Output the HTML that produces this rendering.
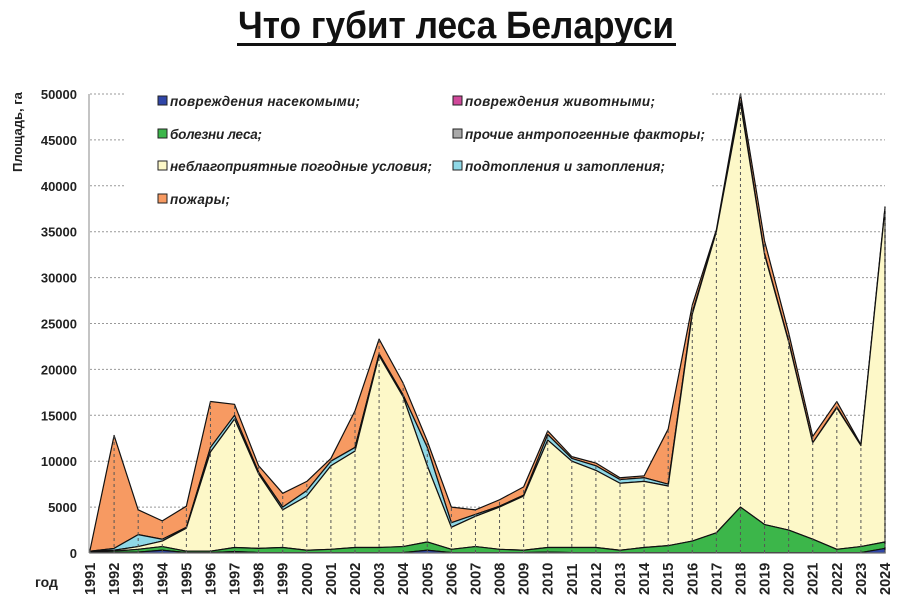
<!DOCTYPE html>
<html><head><meta charset="utf-8"><style>
body{margin:0;background:#fff;width:900px;height:608px;overflow:hidden}
svg{font-family:"Liberation Sans","DejaVu Sans",sans-serif}
</style></head><body>
<svg id="s" width="900" height="608" xmlns="http://www.w3.org/2000/svg">
<text x="456" y="38" text-anchor="middle" font-size="38" font-weight="bold" fill="#111" textLength="436" lengthAdjust="spacingAndGlyphs">Что губит леса Беларуси</text>
<rect x="237" y="43" width="439" height="3" fill="#111"/>
<g id="grid"></g>
<g id="areas"></g>
<g id="lab"></g>
<text transform="translate(22,172) rotate(-90)" font-size="13" font-weight="bold" fill="#222">Площадь, га</text>
<text x="35" y="587" font-size="14" font-weight="bold" fill="#222">год</text>
<g font-size="13.5" font-weight="bold" font-style="italic" fill="#222" lengthAdjust="spacingAndGlyphs">
<rect x="158" y="96" width="9" height="9" fill="#3046a8" stroke="#222" stroke-width="1"/><text x="170" y="106" textLength="190">повреждения насекомыми;</text>
<rect x="158" y="129" width="9" height="9" fill="#3cb64a" stroke="#222" stroke-width="1"/><text x="170" y="139" textLength="92">болезни леса;</text>
<rect x="158" y="161" width="9" height="9" fill="#fdf8c8" stroke="#222" stroke-width="1"/><text x="170" y="171" textLength="262">неблагоприятные погодные условия;</text>
<rect x="158" y="194" width="9" height="9" fill="#f79a62" stroke="#222" stroke-width="1"/><text x="170" y="204" textLength="60">пожары;</text>
<rect x="453" y="96" width="9" height="9" fill="#d0489a" stroke="#222" stroke-width="1"/><text x="465" y="106" textLength="190">повреждения животными;</text>
<rect x="453" y="129" width="9" height="9" fill="#aaa" stroke="#222" stroke-width="1"/><text x="465" y="139" textLength="240">прочие антропогенные факторы;</text>
<rect x="453" y="161" width="9" height="9" fill="#8fd8e6" stroke="#222" stroke-width="1"/><text x="465" y="171" textLength="200">подтопления и затопления;</text>
</g>
</svg>
<script>
var NS="http://www.w3.org/2000/svg";
function el(t,a,p){var e=document.createElementNS(NS,t);for(var k in a)e.setAttribute(k,a[k]);if(p)p.appendChild(e);return e;}
var x0=90,dx=(885-90)/33,y0=553,k=(553-94)/50;
function X(i){return x0+i*dx} function Y(v){return y0-v*k}
var bl=[0.05,0.05,0.1,0.3,0.05,0.05,0.15,0.05,0.05,0.05,0.05,0.05,0.05,0.05,0.3,0.05,0.05,0.05,0.05,0.1,0.05,0.05,0.05,0.05,0.05,0.05,0.05,0.05,0.05,0.05,0.05,0.05,0.05,0.5];
var gr=[0.1,0.2,0.4,0.7,0.2,0.2,0.6,0.5,0.6,0.3,0.4,0.6,0.6,0.7,1.2,0.4,0.7,0.4,0.3,0.6,0.6,0.6,0.3,0.6,0.8,1.3,2.2,5.0,3.1,2.5,1.5,0.4,0.7,1.2];
var we=[0.2,0.3,0.7,1.3,2.7,11.0,14.6,8.6,4.7,6.2,9.5,11.1,21.5,17.0,9.5,2.8,4.0,5.0,6.2,12.3,10.0,9.0,7.6,7.8,7.3,26.0,35.0,49.0,32.5,23.0,12.0,15.8,11.7,37.5];
var fl=[0.2,0.5,2.0,1.5,2.8,11.5,15.0,8.8,5.0,6.8,10.0,11.5,21.7,17.2,11.5,3.3,4.2,5.1,6.3,12.9,10.3,9.5,8.0,8.2,7.5,26.2,35.0,49.2,32.6,23.1,12.0,15.9,11.7,37.5];
var to=[0.3,12.8,4.7,3.5,5.1,16.5,16.2,9.5,6.5,7.8,10.3,15.5,23.3,18.5,12.2,5.0,4.7,5.8,7.2,13.3,10.5,9.8,8.2,8.4,13.5,27.0,35.2,50.0,34.0,24.0,12.7,16.5,11.8,37.7];
var g=document.getElementById('grid'),a=document.getElementById('areas'),l=document.getElementById('lab');
for(var v=0;v<=50;v+=5){var y=Y(v);
 if(v>=40){el('line',{x1:90,x2:125,y1:y,y2:y,stroke:'#999','stroke-width':1,'stroke-dasharray':'2,2'},g);el('line',{x1:712,x2:885,y1:y,y2:y,stroke:'#999','stroke-width':1,'stroke-dasharray':'2,2'},g);}
 else if(v>0) el('line',{x1:90,x2:885,y1:y,y2:y,stroke:'#999','stroke-width':1,'stroke-dasharray':'2,2'},g);
 var t=el('text',{x:77,y:y+5,'text-anchor':'end','font-size':13,'font-weight':'bold',fill:'#222'},l);t.textContent=String(v*1000);}
function band(lo,hi,fill){var d='M'+X(0)+','+Y(hi[0]);for(var i=1;i<34;i++)d+='L'+X(i)+','+Y(hi[i]);for(var i=33;i>=0;i--)d+='L'+X(i)+','+Y(lo?lo[i]:0);el('path',{d:d+'Z',fill:fill,stroke:'#111','stroke-width':1.2,'stroke-linejoin':'round'},a);}
band(fl,to,'#f79a62');band(we,fl,'#8fd8e6');band(gr,we,'#fdf8c8');band(bl,gr,'#3cb64a');band(null,bl,'#3046a8');
var top='M'+X(0)+','+Y(to[0]);for(var i=1;i<34;i++)top+='L'+X(i)+','+Y(to[i]);
el('path',{d:top,fill:'none',stroke:'#111','stroke-width':2,'stroke-linejoin':'round'},a);
for(var i=0;i<34;i++){el('line',{x1:X(i),x2:X(i),y1:y0,y2:Y(to[i]),stroke:'#555','stroke-width':1,'stroke-dasharray':'3,3'},a);
 var t=el('text',{transform:'translate('+(X(i)+5)+',595) rotate(-90)','font-size':14.5,'font-weight':'bold',fill:'#222'},l);t.textContent=String(1991+i);}
el('line',{x1:89,x2:89,y1:94,y2:y0,stroke:'#888','stroke-width':1},g);
el('line',{x1:89,x2:886,y1:y0,y2:y0,stroke:'#888','stroke-width':1},a);
</script>
</body></html>
